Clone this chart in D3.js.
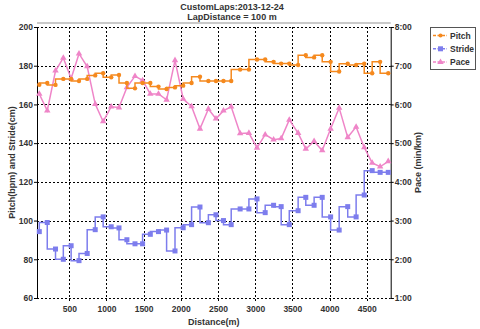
<!DOCTYPE html>
<html>
<head>
<meta charset="utf-8">
<script src="https://cdn.jsdelivr.net/npm/d3@7"></script>
<style>
  body { margin: 0; background: #fff; }
  svg { display: block; font-family: "Liberation Sans", Arial, sans-serif; }
</style>
</head>
<body>
<div id="container"></div>
<script>
// lap end distances (m)
const distance = [97, 204, 315, 420, 525, 631, 741, 849, 956, 1064, 1169, 1275, 1384, 1486, 1590,
  1700, 1809, 1922, 2032, 2145, 2258, 2371, 2473, 2574, 2678, 2798, 2916, 3025, 3135, 3248,
  3350, 3459, 3578, 3681, 3793, 3902, 4015, 4130, 4245, 4358, 4467, 4574, 4681, 4790];

const pitch = [170.2, 171.1, 170.1, 173.2, 173.2, 172.1, 173.2, 175, 176.1, 174, 175.2, 171.1, 168.3, 171.1, 171.1,
  169.2, 168, 168.8, 169.7, 171.1, 174.3, 172.1, 172.1, 172.1, 172.1, 178, 178, 183.2, 183.2, 182,
  181.1, 181.1, 180.4, 185.4, 184.3, 185.4, 182, 177, 181, 180.4, 181, 176.1, 182, 176.1];

const stride = [94.3, 99, 85.3, 80, 87, 79.3, 83, 95.3, 101.9, 96.8, 96.2, 90.1, 88, 88, 92.9,
  94.3, 95.1, 84.3, 96.3, 97.9, 107, 98.9, 103, 100, 97.9, 106, 106, 111.2, 104.1, 107.9,
  107.2, 97.9, 105.1, 112, 107.9, 112, 101.9, 95.1, 107.2, 101.9, 113.2, 125.8, 124.9, 124.9];

// pace in minutes per km
const pace = [6.27, 5.84, 6.87, 7.20, 6.67, 7.31, 6.98, 6.01, 5.56, 5.94, 5.92, 6.44, 6.73, 6.62, 6.27,
  6.27, 6.12, 7.14, 6.14, 5.95, 5.37, 5.88, 5.63, 5.84, 5.94, 5.25, 5.26, 4.88, 5.22, 5.09,
  5.12, 5.60, 5.26, 4.85, 5.05, 4.81, 5.37, 5.91, 5.15, 5.42, 4.89, 4.49, 4.39, 4.53];

const leftTicks = [60, 80, 100, 120, 140, 160, 180, 200];
const rightTicks = [1, 2, 3, 4, 5, 6, 7, 8];
const xTicks = [500, 1000, 1500, 2000, 2500, 3000, 3500, 4000, 4500];

const W = 480, H = 329;
const pLeft = 37, pRight = 390.7, pTop = 27, pBottom = 298;

const colors = {Pitch: "#f5891e", Stride: "#7d7ded", Pace: "#ef85c8"};

const svg = d3.select("#container").append("svg")
  .attr("width", W).attr("height", H);

const x = d3.scaleLinear().domain([66, 4823]).range([pLeft, pRight]);
const y = d3.scaleLinear().domain([60, 200]).range([pBottom, pTop]);
const yPace = d3.scaleLinear().domain([1, 8]).range([pBottom, pTop]);

// titles
svg.append("text").attr("x", 232).attr("y", 10).attr("text-anchor", "middle")
  .attr("font-size", "9px").attr("font-weight", "bold").attr("fill", "#333")
  .text("CustomLaps:2013-12-24");
svg.append("text").attr("x", 232).attr("y", 20).attr("text-anchor", "middle")
  .attr("font-size", "9px").attr("font-weight", "bold").attr("fill", "#333")
  .text("LapDistance = 100 m");

// top border
svg.append("line").attr("x1", pLeft).attr("x2", pRight).attr("y1", pTop - 4).attr("y2", pTop - 4)
  .attr("stroke", "#b8b8b8").attr("stroke-width", 1.5);

// grid
svg.append("g").selectAll("line").data(leftTicks).join("line")
  .attr("x1", pLeft).attr("x2", pRight)
  .attr("y1", d => Math.round(y(d)) + 0.5).attr("y2", d => Math.round(y(d)) + 0.5)
  .attr("stroke", "#000").attr("stroke-dasharray", "2,2");
svg.append("g").selectAll("line").data(xTicks).join("line")
  .attr("x1", d => Math.round(x(d)) + 0.5).attr("x2", d => Math.round(x(d)) + 0.5)
  .attr("y1", pTop).attr("y2", pBottom + 3)
  .attr("stroke", "#000").attr("stroke-dasharray", "2,2");

// axes
const leftAxis = svg.append("g").attr("transform", `translate(${pLeft},0)`)
  .call(d3.axisLeft(y).tickValues(leftTicks).tickSize(3).tickPadding(1));
const rightAxis = svg.append("g").attr("transform", `translate(${pRight},0)`)
  .call(d3.axisRight(yPace).tickValues(rightTicks).tickSize(3).tickPadding(1)
    .tickFormat(d => d + ":00"));
const xAxis = svg.append("g").attr("transform", `translate(0,${pBottom})`)
  .call(d3.axisBottom(x).tickValues(xTicks).tickSize(0).tickPadding(8)
    .tickFormat(d3.format("d")));
xAxis.select(".domain").remove();
[leftAxis, rightAxis, xAxis].forEach(a => {
  a.selectAll("text").attr("font-size", "8.5px").attr("font-weight", "bold")
    .attr("fill", "#333").attr("font-family", "Liberation Sans, Arial, sans-serif");
  a.selectAll(".domain").attr("stroke", "#000");
});

// axis titles
svg.append("text").attr("x", (pLeft + pRight) / 2).attr("y", 325)
  .attr("text-anchor", "middle").attr("font-size", "9px").attr("font-weight", "bold")
  .attr("fill", "#333").text("Distance(m)");
svg.append("text").attr("transform", `translate(15,${(pTop + pBottom) / 2}) rotate(-90)`)
  .attr("text-anchor", "middle").attr("font-size", "9px").attr("font-weight", "bold")
  .attr("fill", "#333").text("Pitch(bpm) and Stride(cm)");
svg.append("text").attr("transform", `translate(421,${(pTop + pBottom) / 2}) rotate(-90)`)
  .attr("text-anchor", "middle").attr("font-size", "9px").attr("font-weight", "bold")
  .attr("fill", "#333").text("Pace (min/km)");

const plot = svg.append("g");

// pace line
const paceData = distance.map((d, i) => [x(d), yPace(pace[i])]);
plot.append("path").attr("d", d3.line()(paceData))
  .attr("fill", "none").attr("stroke", colors.Pace).attr("stroke-width", 1.5);
const tri = d3.symbol().type(d3.symbolTriangle).size(18);
plot.append("g").selectAll("path").data(paceData).join("path")
  .attr("d", tri).attr("transform", d => `translate(${d[0]},${d[1]})`)
  .attr("fill", colors.Pace);

// stride line
const strideData = distance.map((d, i) => [x(d), y(stride[i])]);
plot.append("path").attr("d", d3.line().curve(d3.curveStepBefore)(strideData))
  .attr("fill", "none").attr("stroke", colors.Stride).attr("stroke-width", 1.5);
plot.append("g").selectAll("rect").data(strideData).join("rect")
  .attr("x", d => d[0] - 2.5).attr("y", d => d[1] - 2.5)
  .attr("width", 5).attr("height", 5).attr("fill", colors.Stride);

// pitch line
const pitchData = distance.map((d, i) => [x(d), y(pitch[i])]);
plot.append("path").attr("d", d3.line().curve(d3.curveStepBefore)(pitchData))
  .attr("fill", "none").attr("stroke", colors.Pitch).attr("stroke-width", 1.5);
plot.append("g").selectAll("circle").data(pitchData).join("circle")
  .attr("cx", d => d[0]).attr("cy", d => d[1]).attr("r", 2.2)
  .attr("fill", colors.Pitch);

// legend
const legend = svg.append("g").attr("transform", "translate(430,27)");
legend.append("rect").attr("x", 0.5).attr("y", 0.5).attr("width", 45).attr("height", 42)
  .attr("fill", "#fff").attr("stroke", "#555");
["Pitch", "Stride", "Pace"].forEach((name, i) => {
  const ly = 8.5 + i * 13.3;
  legend.append("line").attr("x1", 3).attr("x2", 17).attr("y1", ly).attr("y2", ly)
    .attr("stroke", colors[name]).attr("stroke-width", 1.5).attr("stroke-dasharray", "3,1.5");
  if (name === "Pitch") {
    legend.append("circle").attr("cx", 10.5).attr("cy", ly).attr("r", 2).attr("fill", colors[name]);
  } else if (name === "Stride") {
    legend.append("rect").attr("x", 8).attr("y", ly - 2.5).attr("width", 5).attr("height", 5)
      .attr("fill", colors[name]);
  } else {
    legend.append("path").attr("d", tri).attr("transform", `translate(10.5,${ly})`)
      .attr("fill", colors[name]);
  }
  legend.append("text").attr("x", 20).attr("y", ly + 3).attr("font-size", "8.5px")
    .attr("font-weight", "bold").attr("fill", "#333").text(name);
});
</script>
</body>
</html>
